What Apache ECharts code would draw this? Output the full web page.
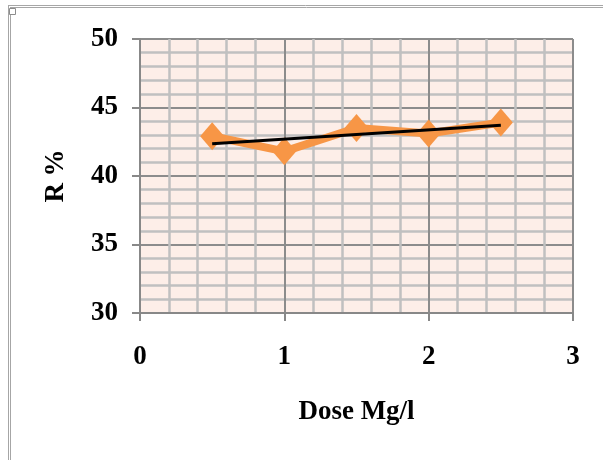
<!DOCTYPE html>
<html><head><meta charset="utf-8">
<script src="https://cdn.jsdelivr.net/npm/echarts@6/dist/echarts.min.js"></script>
<style>html,body{margin:0;padding:0;background:#fff}#c{width:603px;height:460px}</style>
</head><body><div id="c"></div>
<script>
var doses = [0.5, 1, 1.5, 2, 2.5];
var removal = [42.9, 41.8, 43.5, 43.1, 43.9];
var trendX = [0.5, 2.5];
var trendY = [42.35, 43.7];
var xTicks = [0, 1, 2, 3];
var yTicks = [30, 35, 40, 45, 50];

var chart = echarts.init(document.getElementById('c'), null, {renderer: 'canvas'});
var font = {fontFamily: 'Liberation Serif', fontWeight: 'bold', fontSize: 27, color: '#000'};
chart.setOption({
  animation: false,
  grid: {left: 140, right: 30, top: 39, bottom: 147, show: true, backgroundColor: '#fdeee8', borderWidth: 0},
  xAxis: {
    type: 'value', min: xTicks[0], max: xTicks[xTicks.length - 1], interval: 1,
    name: 'Dose Mg/l', nameLocation: 'middle', nameGap: 86,
    nameTextStyle: font,
    axisLine: {show: true, lineStyle: {color: '#888', width: 2}},
    axisTick: {show: true, length: 8, lineStyle: {color: '#888', width: 2}},
    axisLabel: Object.assign({margin: 31}, font),
    splitLine: {show: true, lineStyle: {color: '#8c8c8c', width: 2}},
    minorTick: {show: false, splitNumber: 5},
    minorSplitLine: {show: true, lineStyle: {color: '#c0c0c0', width: 2.5}}
  },
  yAxis: {
    type: 'value', min: yTicks[0], max: yTicks[yTicks.length - 1], interval: 5,
    name: 'R %', nameLocation: 'middle', nameGap: 70, nameRotate: 90,
    nameTextStyle: font,
    axisLine: {show: true, lineStyle: {color: '#888', width: 2}},
    axisTick: {show: true, length: 8, lineStyle: {color: '#888', width: 2}},
    axisLabel: Object.assign({margin: 22}, font),
    splitLine: {show: true, lineStyle: {color: '#8c8c8c', width: 2}},
    minorTick: {show: false, splitNumber: 5},
    minorSplitLine: {show: true, lineStyle: {color: '#c0c0c0', width: 2.5}}
  },
  series: [
    {
      type: 'line',
      data: doses.map(function (d, i) { return [d, removal[i]]; }),
      symbol: 'diamond', symbolSize: [24, 28],
      lineStyle: {color: '#f79646', width: 8},
      itemStyle: {color: '#f79646'},
      z: 3
    },
    {
      type: 'line',
      data: trendX.map(function (d, i) { return [d, trendY[i]]; }),
      symbol: 'none',
      lineStyle: {color: '#000', width: 3},
      z: 4
    }
  ],
  graphic: [
    {type: 'line', shape: {x1: 8, y1: 5.5, x2: 603, y2: 5.5}, style: {stroke: '#a6a6a6', lineWidth: 1}},
    {type: 'line', shape: {x1: 10, y1: 7.5, x2: 603, y2: 7.5}, style: {stroke: '#a6a6a6', lineWidth: 1}},
    {type: 'line', shape: {x1: 8.5, y1: 5, x2: 8.5, y2: 460}, style: {stroke: '#a6a6a6', lineWidth: 1}},
    {type: 'line', shape: {x1: 10.5, y1: 7, x2: 10.5, y2: 460}, style: {stroke: '#a6a6a6', lineWidth: 1}},
    {type: 'rect', shape: {x: 9.5, y: 8.5, width: 6, height: 6}, style: {fill: '#fff', stroke: '#8c8c8c', lineWidth: 1}}
  ]
});
</script>
</body></html>
